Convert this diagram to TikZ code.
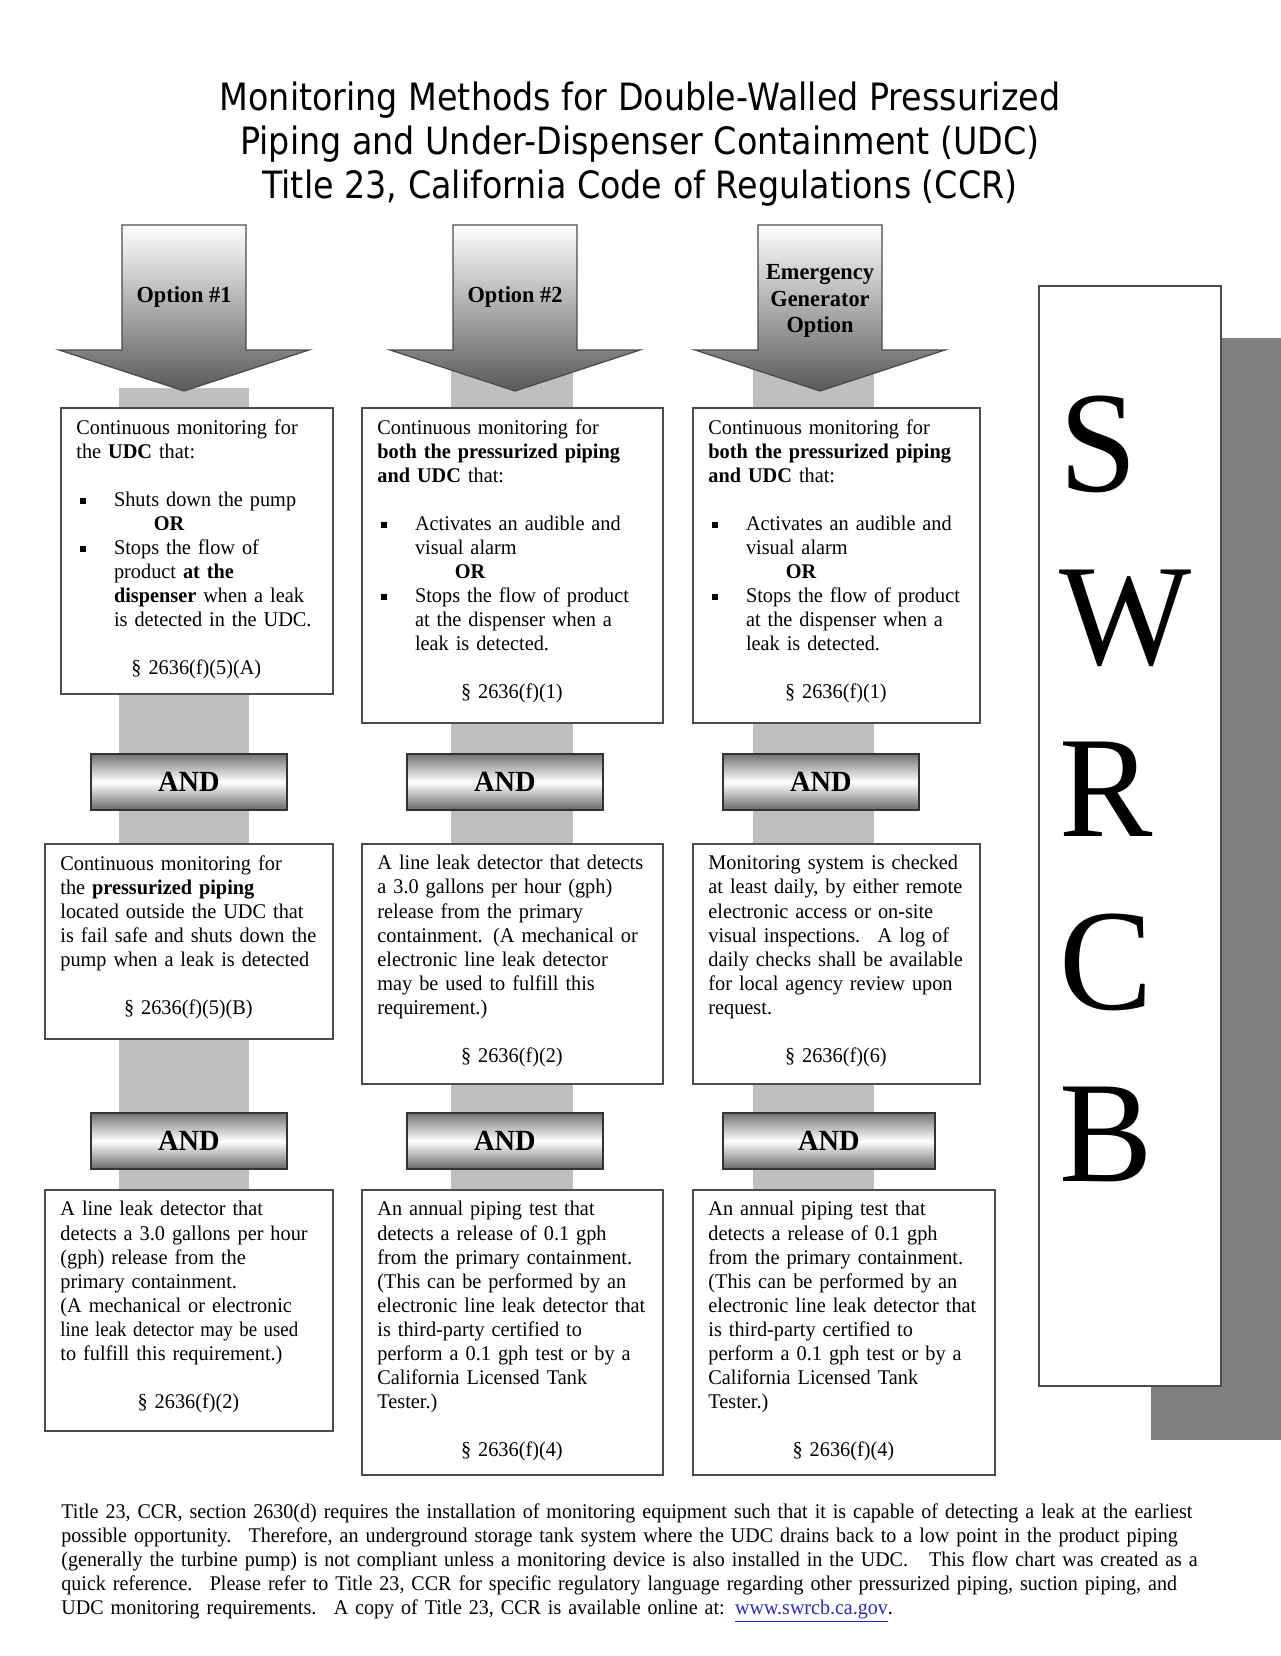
\documentclass[tikz,border=0pt]{standalone}
\usepackage{fontspec}
\setmainfont{Liberation Serif}[FakeStretch=0.97]
\newfontfamily\titlefont{DejaVu Sans}[FakeStretch=0.886]
\newfontfamily\notefont{Liberation Serif}[FakeStretch=0.958]
\usepackage{xcolor}
\definecolor{linkblue}{HTML}{2B2BB8}
\usepackage{graphicx}
\usepackage{tikz}
\usetikzlibrary{positioning}
\pgfdeclarelayer{background}
\pgfsetlayers{background,main}

\tikzstyle{frame}=[rectangle, draw=black!70, line width=0.9pt, fill=white, anchor=north west, inner sep=0pt]
\tikzstyle{boxtext}=[anchor=north west, inner sep=0pt, align=left, font=\fontsize{10}{11.5}\selectfont]
\tikzstyle{andbox}=[rectangle, draw=black!80, line width=0.8pt, top color=black!55, bottom color=black!60, middle color=white, anchor=north west, minimum height=27pt, inner sep=0pt, font=\fontsize{14}{16}\selectfont\bfseries]
\tikzstyle{optarrow}=[draw=black!70, line width=0.6pt, top color=white, bottom color=black!65]
\tikzstyle{optlabel}=[align=center, inner sep=0pt, font=\fontsize{11}{12.7}\selectfont\bfseries]
\tikzstyle{band}=[fill=black!25]
\tikzstyle{shadowfill}=[fill=black!50]
\tikzstyle{titletext}=[align=center, inner sep=0pt, font=\titlefont\fontsize{18}{21.2}\selectfont]
\tikzstyle{letters}=[anchor=north west, align=left, inner sep=0pt, font=\fontsize{69}{82.4}\selectfont]
\tikzstyle{notetext}=[anchor=north west, align=left, inner sep=0pt, text width=590pt, font=\notefont\fontsize{10}{11.5}\selectfont]

% bits of box text
\newcommand{\sqitem}{\makebox[18pt][l]{\hspace{1.8pt}\rule[1.3pt]{2.6pt}{2.6pt}}}
\newcommand{\indnt}{\hspace*{18pt}}
\newcommand{\orline}{\hspace*{37pt}\textbf{OR}}
\newcommand{\sectref}[1]{\hspace*{\stretch{1}}#1\hspace*{\stretch{1}}\mbox{}}
\newcommand{\squeezed}[1]{\scalebox{0.93}[1]{#1}}

% name, centre x, label y, label
\newcommand{\optarrow}[4]{
  \draw[optarrow] (#2-62,225) -- (#2+62,225) -- (#2+62,350) -- (#2+125,350)
    -- (#2,391) -- (#2-125,350) -- (#2-62,350) -- cycle;
  \node[optlabel] (#1) at (#2,#3) {#4};}
% name, x, y, width, height, text width, text
\newcommand{\rulebox}[7]{
  \node[frame, minimum width=#4, minimum height=#5] (#1) at (#2,#3) {};
  \node[boxtext, text width=#6] (#1text) at ([shift={(16,12)}]#1.north west) {#7};}
\newcommand{\andbar}[4]{
  \node[andbox, minimum width=#4] (#1) at (#2,#3) {AND};}

\begin{document}
\begin{tikzpicture}[x=0.478125pt, y=-0.478125pt]
\useasboundingbox (0,0) rectangle (1280,1656);

\node[titletext] (title) at (640,144) {Monitoring Methods for Double-Walled Pressurized\\
  Piping and Under-Dispenser Containment (UDC)\\
  Title 23, California Code of Regulations (CCR)};

% option arrows
\optarrow{optone}{184}{297}{Option \#1}
\optarrow{opttwo}{515}{297}{Option \#2}
\optarrow{optgen}{820}{301}{Emergency\\Generator\\Option}

% first column
\rulebox{oneA}{60}{407}{130.05pt}{136.7pt}{114.7pt}{Continuous monitoring for\\
  the \textbf{UDC} that:\\[11.5pt]
  \sqitem Shuts down the pump\\
  \orline\\
  \sqitem Stops the flow of\\
  \indnt product \textbf{at the}\\
  \indnt\textbf{dispenser} when a leak\\
  \indnt is detected in the UDC.\\[11.5pt]
  \sectref{§ 2636(f)(5)(A)}}
\andbar{andoneA}{90}{753}{93.7pt}
\rulebox{oneB}{44}{843}{137.7pt}{93.2pt}{122.4pt}{Continuous monitoring for\\
  the \textbf{pressurized piping}\\
  located outside the UDC that\\
  is fail safe and shuts down the\\
  pump when a leak is detected\\[11.5pt]
  \sectref{§ 2636(f)(5)(B)}}
\andbar{andoneB}{90}{1112}{93.7pt}
\rulebox{oneC}{44}{1189}{137.7pt}{115.2pt}{122.4pt}{A line leak detector that\\
  detects a 3.0 gallons per hour\\
  (gph) release from the\\
  primary containment.\\
  (A mechanical or electronic\\
  \squeezed{line leak detector may be used}\\
  to fulfill this requirement.)\\[11.5pt]
  \sectref{§ 2636(f)(2)}}

% second column
\rulebox{twoA}{361}{407}{143.9pt}{150.6pt}{128.6pt}{Continuous monitoring for\\
  \textbf{both the pressurized piping}\\
  \textbf{and UDC} that:\\[11.5pt]
  \sqitem Activates an audible and\\
  \indnt visual alarm\\
  \orline\\
  \sqitem Stops the flow of product\\
  \indnt at the dispenser when a\\
  \indnt leak is detected.\\[11.5pt]
  \sectref{§ 2636(f)(1)}}
\andbar{andtwoA}{406}{753}{93.7pt}
\rulebox{twoB}{361}{843}{143.9pt}{114.8pt}{128.6pt}{A line leak detector that detects\\
  a 3.0 gallons per hour (gph)\\
  release from the primary\\
  containment. (A mechanical or\\
  electronic line leak detector\\
  may be used to fulfill this\\
  requirement.)\\[11.5pt]
  \sectref{§ 2636(f)(2)}}
\andbar{andtwoB}{406}{1112}{93.7pt}
\rulebox{twoC}{361}{1189}{143.9pt}{136.3pt}{128.6pt}{An annual piping test that\\
  detects a release of 0.1 gph\\
  from the primary containment.\\
  (This can be performed by an\\
  electronic line leak detector that\\
  is third-party certified to\\
  perform a 0.1 gph test or by a\\
  California Licensed Tank\\
  Tester.)\\[11.5pt]
  \sectref{§ 2636(f)(4)}}

% third column
\rulebox{genA}{692}{407}{137.2pt}{150.6pt}{121.9pt}{Continuous monitoring for\\
  \textbf{both the pressurized piping}\\
  \textbf{and UDC} that:\\[11.5pt]
  \sqitem Activates an audible and\\
  \indnt visual alarm\\
  \orline\\
  \sqitem Stops the flow of product\\
  \indnt at the dispenser when a\\
  \indnt leak is detected.\\[11.5pt]
  \sectref{§ 2636(f)(1)}}
\andbar{andgenA}{722}{753}{93.7pt}
\rulebox{genB}{692}{843}{137.2pt}{114.8pt}{121.9pt}{Monitoring system is checked\\
  at least daily, by either remote\\
  electronic access or on-site\\
  visual inspections.~ A log of\\
  daily checks shall be available\\
  for local agency review upon\\
  request.\\[11.5pt]
  \sectref{§ 2636(f)(6)}}
\andbar{andgenB}{722}{1112}{101.4pt}
\rulebox{genC}{692}{1189}{144.4pt}{136.3pt}{129.1pt}{An annual piping test that\\
  detects a release of 0.1 gph\\
  from the primary containment.\\
  (This can be performed by an\\
  electronic line leak detector that\\
  is third-party certified to\\
  perform a 0.1 gph test or by a\\
  California Licensed Tank\\
  Tester.)\\[11.5pt]
  \sectref{§ 2636(f)(4)}}

% SWRCB panel
\node[frame, minimum width=87pt, minimum height=526pt] (swrcb) at (1038,285) {};
\node[letters] (swrcbtext) at (1059,396) {S\\W\\R\\C\\B};

% note at the bottom
\node[notetext] (note) at (61,1503) {Title 23, CCR, section 2630(d) requires the installation of monitoring equipment such that it is capable of detecting a leak at the earliest\\
  possible opportunity.~ Therefore, an underground storage tank system where the UDC drains back to a low point in the product piping\\
  (generally the turbine pump) is not compliant unless a monitoring device is also installed in the UDC.~~ This flow chart was created as a\\
  quick reference.~ Please refer to Title 23, CCR for specific regulatory language regarding other pressurized piping, suction piping, and\\
  UDC monitoring requirements.~ A copy of Title 23, CCR is available online at: \textcolor{linkblue}{\underline{www.swrcb.ca.gov}}.};

% grey bands behind the columns
\begin{pgfonlayer}{background}
  \fill[band] (119,388) rectangle (249,0 |- oneC.north);
  \fill[band] (451,360) rectangle (573,0 |- twoC.north);
  \fill[band] (753,360) rectangle (874,0 |- genC.north);
  \fill[shadowfill] ([shift={(113,53)}]swrcb.north west) rectangle ([shift={(113,53)}]swrcb.south east);
\end{pgfonlayer}

\end{tikzpicture}
\end{document}
